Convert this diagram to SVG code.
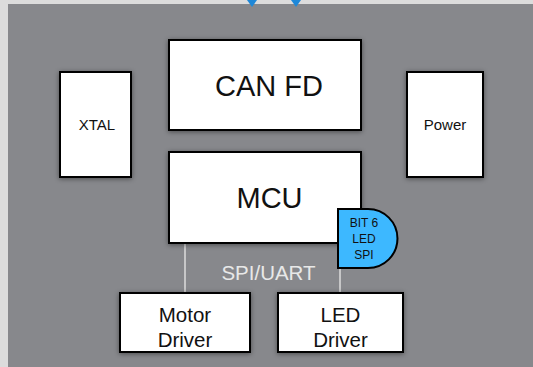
<svg xmlns="http://www.w3.org/2000/svg" width="533" height="367" viewBox="0 0 533 367">
<defs>
<filter id="sh" x="-20%" y="-20%" width="140%" height="140%">
<feDropShadow dx="0" dy="1" stdDeviation="2.5" flood-color="#000" flood-opacity="0.45"/>
</filter>
</defs>
<style>
.box{fill:#fff;stroke:#000;stroke-width:2;filter:url(#sh)}
.t{font-family:"Liberation Sans",Arial,sans-serif;fill:#111;text-anchor:middle}
.conn{stroke:#dcdcdc;stroke-width:1.5;fill:none}
</style>
<rect x="0" y="0" width="533" height="367" fill="#dcdcdc"/>
<rect x="8" y="4" width="525" height="363" fill="#87888c"/>
<g id="connectors">
<line class="conn" x1="185" y1="243" x2="185" y2="293"/>
<line class="conn" x1="340" y1="268" x2="340" y2="293"/>
<polygon points="247,0 257,0 252,7" fill="#1e88d8"/>
<polygon points="291,0 301,0 296,7" fill="#1e88d8"/>
<text class="t" x="268.5" y="280" font-size="20.5" style="fill:#e8e8e8">SPI/UART</text>
</g>
<g id="canfd">
<rect class="box" x="169" y="40" width="192" height="90"/>
<text class="t" x="269" y="96" font-size="29">CAN FD</text>
</g>
<g id="xtal">
<rect class="box" x="60" y="72" width="71" height="105"/>
<text class="t" x="97" y="130" font-size="15">XTAL</text>
</g>
<g id="power">
<rect class="box" x="407" y="72" width="76" height="105"/>
<text class="t" x="445" y="130" font-size="15">Power</text>
</g>
<g id="mcu">
<rect class="box" x="169" y="152" width="192" height="91"/>
<text class="t" x="269.5" y="208" font-size="29">MCU</text>
</g>
<g id="badge">
<path d="M338,209 H368 A29.5,29.5 0 0 1 368,268 H338 Z" fill="#3db8ff" stroke="#000" stroke-width="2"/>
<text class="t" x="364" y="227" font-size="12">BIT 6</text>
<text class="t" x="364" y="243" font-size="12">LED</text>
<text class="t" x="364" y="259" font-size="12">SPI</text>
</g>
<g id="motor">
<rect class="box" x="120" y="293" width="130" height="59"/>
<text class="t" x="185" y="322" font-size="20.5">Motor</text>
<text class="t" x="185" y="347" font-size="20.5">Driver</text>
</g>
<g id="led">
<rect class="box" x="278" y="293" width="125" height="59"/>
<text class="t" x="340.5" y="322" font-size="20.5">LED</text>
<text class="t" x="340.5" y="347" font-size="20.5">Driver</text>
</g>
</svg>
